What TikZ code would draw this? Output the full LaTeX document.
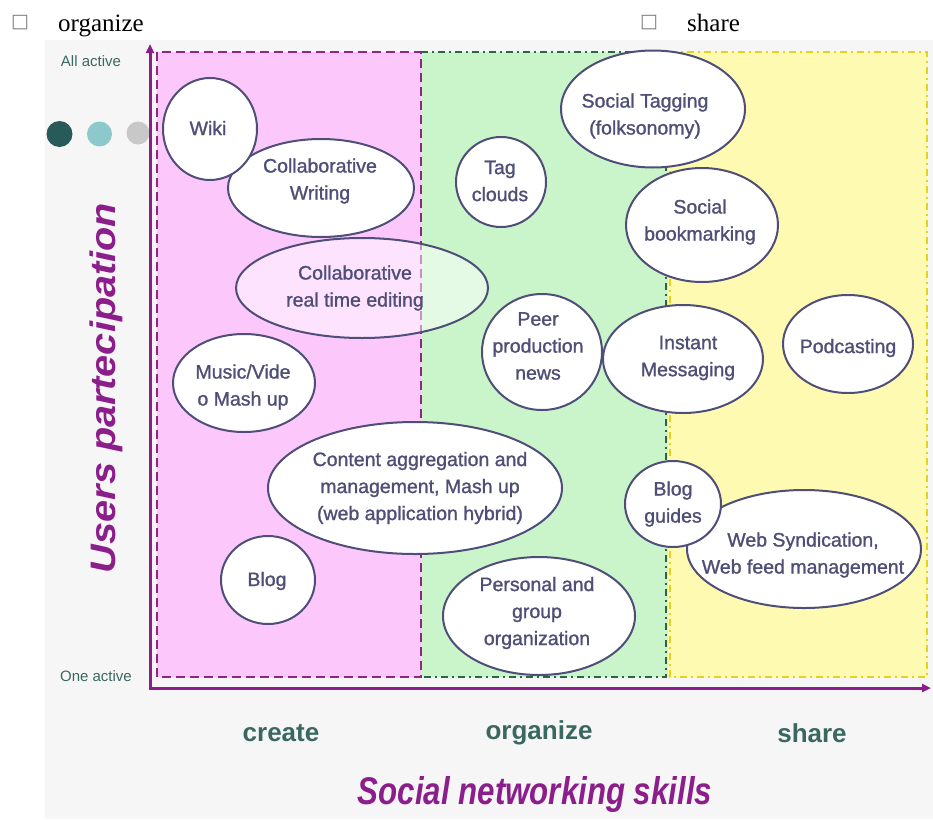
\documentclass[tikz,border=0pt]{standalone}
\usepackage{fontspec}
\setmainfont{Liberation Sans}
\newfontfamily\serifface{Liberation Serif}
\newfontfamily\dvface{DejaVu Sans}
\newfontfamily\bubface[FakeBold=1.2]{Liberation Sans}
\usetikzlibrary{shapes.geometric,arrows.meta}
\definecolor{axispurple}{RGB}{140,30,140}
\definecolor{pinkfill}{RGB}{252,200,252}
\definecolor{greenfill}{RGB}{202,245,202}
\definecolor{yellowfill}{RGB}{255,250,178}
\definecolor{greenline}{RGB}{45,100,70}
\definecolor{yellowline}{RGB}{230,210,30}
\definecolor{pinkline}{RGB}{150,35,130}
\definecolor{bubline}{RGB}{78,78,120}
\definecolor{bubtext}{RGB}{78,78,118}
\definecolor{tealtext}{RGB}{58,104,96}
\definecolor{panel}{RGB}{246,246,246}
\definecolor{dotdark}{RGB}{40,90,90}
\definecolor{dotlight}{RGB}{140,200,204}
\definecolor{dotgray}{RGB}{200,200,200}
\tikzset{
  bubshape/.style={ellipse, draw=bubline, line width=2pt, fill=white, inner sep=0pt},
  bubtxt/.style={align=center, inner sep=0pt, text=bubtext, font=\bubface\fontsize{19.5}{27}\selectfont},
  skill/.style={text=tealtext, inner sep=0pt, font=\bfseries\fontsize{26}{26}\selectfont},
  level/.style={text=tealtext, inner sep=0pt, font=\fontsize{15}{15}\selectfont},
  axis/.style={draw=axispurple, line width=3pt},
  toptext/.style={inner sep=0pt, anchor=base west, font=\serifface\fontsize{25}{25}\selectfont},
  boxglyph/.style={inner sep=0pt, text=gray, font=\dvface\fontsize{19}{19}\selectfont},
}
\newcommand\mybub[9][]{%
  \node[bubshape,#1,minimum width=#5pt,minimum height=#6pt] (#2) at (#3,#4) {};
  \node[bubtxt] (#2-t) at (#7,#8) {#9};}
\begin{document}
\begin{tikzpicture}[x=1pt,y=-1pt]
\useasboundingbox (0,0) rectangle (933,819);
\fill[white] (0,0) rectangle (933,819);
\fill[panel] (45,40) rectangle (933,819);
% top line
\node[boxglyph] (b1) at (20,23) {□};
\node[toptext] (t1) at (58,31) {organize};
\node[boxglyph] (b2) at (649,23) {□};
\node[toptext] (t2) at (687,31) {share};
% level labels and dots
\node[level] (all) at (91,61) {All active};
\node[level] (one) at (96,676) {One active};
\fill[dotgray] (138,133) circle (11.5);
\fill[dotdark] (59.5,134) circle (13);
\fill[dotlight] (99.5,134) circle (12.5);
% regions
\fill[pinkfill] (157,52) rectangle (421,677);
\fill[greenfill] (421,52) rectangle (668,677);
\fill[yellowfill] (668,52) rectangle (927,677);
\draw[greenline, line width=2pt, dash pattern=on 7pt off 4pt on 2pt off 4pt] (421,52) -- (666,52) -- (666,677) -- (421,677);
\draw[yellowline, line width=2pt, dash pattern=on 7pt off 4pt on 2pt off 4pt] (670,52) -- (927,52) -- (927,677) -- (670,677) -- cycle;
\draw[pinkline, line width=2.2pt, dash pattern=on 9pt off 5pt] (157,52) rectangle (421,677);
% axes
\coordinate (O) at (150,688);
\coordinate (ytop) at (150,44);
\coordinate (xo) at (148.5,688);
\coordinate (xend) at (931,688);
\draw[axis, -{Triangle[length=9pt,width=8pt]}] (O) -- (ytop);
\draw[axis, -{Triangle[length=9pt,width=8pt]}] (xo) -- (xend);
% bubbles
\mybub{cw}{321}{188}{186}{98}{320}{181}{Collaborative\\Writing}
\mybub{wiki}{210}{129}{94}{102}{208}{128}{Wiki}
\mybub{tag}{501}{182}{90}{90}{500}{181}{Tag\\clouds}
\mybub{sb}{702}{225}{152}{114}{700}{222}{Social\\bookmarking}
\mybub{st}{653}{109}{184}{117}{645}{116}{Social Tagging\\(folksonomy)}
\mybub[fill opacity=0.5]{crte}{362}{288}{252}{100}{355}{288}{Collaborative\\real time editing}
\mybub{mv}{244}{383}{142}{98}{243}{387}{Music/Vide\\o Mash up}
\mybub{ppn}{542}{352}{120}{116}{538}{346}{Peer\\production\\news}
\mybub{im}{683}{359}{160}{108}{688}{358}{Instant\\Messaging}
\mybub{pod}{848}{344}{130}{98}{848}{348}{Podcasting}
\mybub{ca}{415}{488}{294}{132}{420}{488}{Content aggregation and\\management, Mash up\\(web application hybrid)}
\mybub{ws}{804}{549}{234}{118}{803}{555}{Web Syndication,\\Web feed management}
\mybub{bg}{673}{504}{96}{86}{673}{504}{Blog\\guides}
\mybub{blog}{268}{580}{94}{88}{267}{581}{Blog}
\mybub{pgo}{539}{616}{192}{118}{537}{613}{Personal and\\group\\organization}
% axis labels
\node[skill] (create) at (281,733) {create};
\node[skill] (org) at (539,733) {organize};
\node[skill] (share) at (812,733) {share};
\node[inner sep=0pt, text=axispurple] (xlab) at (535,794) {\resizebox*{354pt}{36pt}{\bfseries\itshape Social networking skills}};
\node[inner sep=0pt, text=axispurple, rotate=90] (ylab) at (106,388) {\resizebox*{370pt}{33pt}{\bfseries\itshape Users partecipation}};
\end{tikzpicture}
\end{document}
